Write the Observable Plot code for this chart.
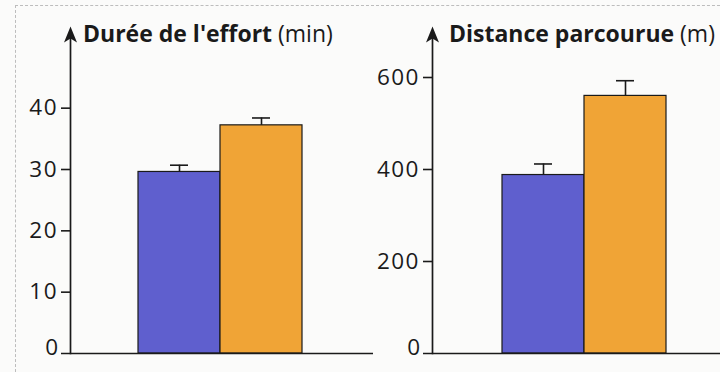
<!DOCTYPE html>
<html><head><meta charset="utf-8">
<script src="https://cdn.jsdelivr.net/npm/d3@7"></script>
<script src="https://cdn.jsdelivr.net/npm/@observablehq/plot@0.6"></script>
<style>
html,body{margin:0;padding:0;background:#fbfbfa;}
#wrap{position:relative;width:720px;height:372px;overflow:hidden;font-family:"Open Sans",sans-serif;}
#border{position:absolute;left:15px;top:5px;right:-5px;bottom:-5px;border-top:1px dashed #bdbdbd;border-left:1px dashed #bdbdbd;}
.panel{position:absolute;top:0;}
.panel svg{overflow:visible;}
</style></head><body><div id="wrap"><div id="border"></div></div>
<script>
// Data
const groups = ["groupe 1", "groupe 2"];
const barColors = ["#5f5fce", "#f0a436"];
const dureeValues = [29.6, 37.2];
const dureeErrors = [1.1, 1.2];
const dureeTicks = [0, 10, 20, 30, 40];
const distanceValues = [388, 560];
const distanceErrors = [24, 33];
const distanceTicks = [0, 200, 400, 600];

const panels = [
  {title: "Durée de l'effort", unit: " (min)", values: dureeValues, errors: dureeErrors, ticks: dureeTicks, yMax: 52.5,
   left: 0, width: 380, marginLeft: 70, marginRight: 7, barRange: [138, 302], tickSize: 9, titleX: 83},
  {title: "Distance parcourue", unit: " (m)", values: distanceValues, errors: distanceErrors, ticks: distanceTicks, yMax: 700,
   left: 360, width: 360, marginLeft: 72, marginRight: 0, barRange: [142, 306], tickSize: 9, titleX: 89}
];

const ink = "#1a1a1a";
const wrap = document.getElementById("wrap");

// stealth-style arrowhead for the top of the y axis
const arrowHead = {
  draw(context) {
    context.moveTo(0, -5);
    context.lineTo(6.5, 11);
    context.lineTo(0, 7);
    context.lineTo(-6.5, 11);
    context.closePath();
  }
};

for (const p of panels) {
  const data = groups.map((g, i) => ({group: g, value: p.values[i], err: p.errors[i], top: p.values[i] + p.errors[i]}));
  const chart = Plot.plot({
    width: p.width, height: 372,
    marginTop: 31, marginBottom: 19, marginLeft: p.marginLeft, marginRight: p.marginRight,
    style: {background: "transparent", fontFamily: "'Open Sans', sans-serif", overflow: "visible"},
    x: {type: "band", domain: groups, range: p.barRange, padding: 0, axis: null},
    y: {domain: [0, p.yMax], axis: null},
    color: {domain: groups, range: barColors},
    marks: [
      Plot.barY(data, {x: "group", y: "value", fill: "group", stroke: ink, strokeWidth: 1.2}),
      Plot.ruleX(data, {x: "group", y1: "value", y2: "top", stroke: ink, strokeWidth: 1.6}),
      Plot.tickY(data, {x: "group", y: "top", insetLeft: 32, insetRight: 32, stroke: ink, strokeWidth: 1.6}),
      Plot.frame({anchor: "left", stroke: ink, strokeWidth: 1.7}),
      Plot.ruleY([0], {insetLeft: -p.tickSize, stroke: ink, strokeWidth: 1.7}),
      Plot.axisY({ticks: p.ticks.filter(t => t !== 0), tickSize: p.tickSize, tickPadding: 3.5, fontSize: 22.5,
                  stroke: ink, strokeWidth: 1.6, fill: ink, tickFormat: d => String(d), ariaLabel: "yticks"}),
      Plot.text([0], {y: d => d, text: d => String(d), frameAnchor: "left", textAnchor: "end",
                      dx: -p.tickSize - 3.5, dy: -6, fontSize: 22.5, fill: ink, ariaLabel: "zero label"}),
      Plot.dot([p.yMax], {y: d => d, frameAnchor: "left", symbol: arrowHead, fill: ink, stroke: "none"})
    ]
  });
  const svg = d3.select(chart);
  svg.selectAll('g[aria-label^="yticks"] text, g[aria-label="zero label"] text').style("letter-spacing", "1.5px");
  const t = svg.append("text").attr("x", p.titleX).attr("y", 42).attr("font-size", 23)
    .attr("text-anchor", "start").attr("fill", ink).attr("font-family", "'Open Sans', sans-serif");
  t.append("tspan").attr("font-weight", "bold").text(p.title);
  t.append("tspan").attr("font-weight", "normal").text(p.unit);
  const div = document.createElement("div");
  div.className = "panel";
  div.style.left = p.left + "px";
  div.appendChild(chart);
  wrap.appendChild(div);
}
</script></body></html>
